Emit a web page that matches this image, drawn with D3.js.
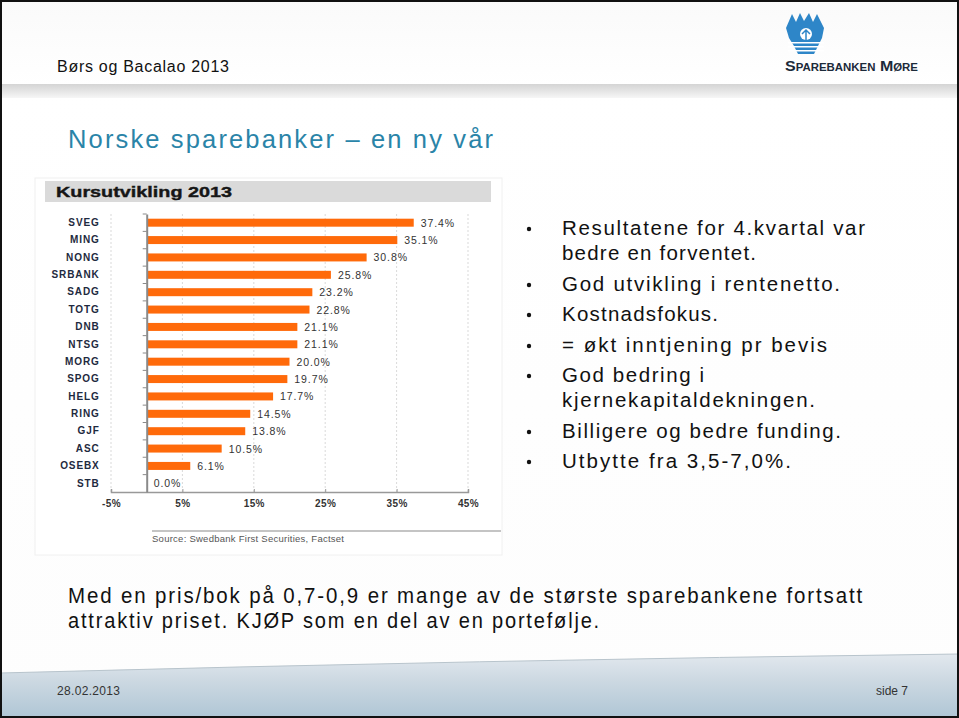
<!DOCTYPE html>
<html><head><meta charset="utf-8">
<script src="https://cdn.jsdelivr.net/npm/d3@7"></script>
<style>
html,body{margin:0;padding:0;background:#fff;}
svg{display:block;font-family:"Liberation Sans",Arial,sans-serif;}
</style></head>
<body>
<svg id="c" width="959" height="718"></svg>
<script>
// ---- data ----
const categories = ["SVEG","MING","NONG","SRBANK","SADG","TOTG","DNB","NTSG","MORG","SPOG","HELG","RING","GJF","ASC","OSEBX","STB"];
const values = [37.4,35.1,30.8,25.8,23.2,22.8,21.1,21.1,20.0,19.7,17.7,14.5,13.8,10.5,6.1,0.0];
const tickValues = [-5,5,15,25,35,45];
const chartTitle = "Kursutvikling 2013";
const sourceText = "Source: Swedbank First Securities, Factset";
const slideTitle = "Norske sparebanker \u2013 en ny vår";
const headerText = "Børs og Bacalao 2013";
const bullets = [
  ["Resultatene for 4.kvartal var","bedre en forventet."],
  ["God utvikling i rentenetto."],
  ["Kostnadsfokus."],
  ["= økt inntjening pr bevis"],
  ["God bedring i","kjernekapitaldekningen."],
  ["Billigere og bedre funding."],
  ["Utbytte fra 3,5-7,0%."]
];
const paragraph = ["Med en pris/bok på 0,7-0,9 er mange av de største sparebankene  fortsatt","attraktiv priset. KJØP som en del av en portefølje."];
const footerDate = "28.02.2013";
const footerPage = "side 7";

const svg = d3.select("#c");
const defs = svg.append("defs");

// background
const bg = defs.append("linearGradient").attr("id","bg").attr("x1",0).attr("y1",0).attr("x2",0).attr("y2",1);
bg.append("stop").attr("offset","0").attr("stop-color","#fafafa");
bg.append("stop").attr("offset","0.12").attr("stop-color","#ffffff");
bg.append("stop").attr("offset","1").attr("stop-color","#fdfdfd");
svg.append("rect").attr("width",959).attr("height",718).attr("fill","url(#bg)");

// header shadow band
const hs = defs.append("linearGradient").attr("id","hs").attr("x1",0).attr("y1",0).attr("x2",0).attr("y2",1);
hs.append("stop").attr("offset","0").attr("stop-color","#d4d4d4");
hs.append("stop").attr("offset","1").attr("stop-color","#f6f6f6");
svg.append("rect").attr("x",0).attr("y",84).attr("width",959).attr("height",14).attr("fill","url(#hs)");

// header text
svg.append("text").attr("x",57).attr("y",72).attr("font-size",16).attr("fill","#111")
  .attr("textLength",172).attr("lengthAdjust","spacing").text(headerText);

// logo
const logo = svg.append("g").attr("transform","translate(806,34)");
logo.append("path").attr("d","M-20,-6 L-14,-20 L-10,-12 L-6,-21 L-2,-13 L3,-21 L7,-12 L11,-20 L18,-6 L16,4 L12,12 L8,20 L-8,20 L-12,12 L-17,4 Z").attr("fill","#2e86c8");
logo.append("circle").attr("cx",0).attr("cy",0).attr("r",6).attr("fill","#fff");
logo.append("path").attr("d","M0,-4 L0,6 M-4,0 L0,-4 L4,0").attr("stroke","#2e86c8").attr("stroke-width",1.5).attr("fill","none");
[8,12,16].forEach(y=>logo.append("rect").attr("x",-18).attr("y",y).attr("width",36).attr("height",1.5).attr("fill","#fff"));
svg.append("text").attr("x",785).attr("y",71).attr("font-size",14).attr("font-weight","bold")
  .attr("fill","#1c2a3a").style("font-variant","small-caps").attr("textLength",133).attr("lengthAdjust","spacingAndGlyphs")
  .text("Sparebanken Møre");

// slide title
svg.append("text").attr("x",68).attr("y",148).attr("font-size",25.5).attr("fill","#2a84a8")
  .attr("textLength",425).attr("lengthAdjust","spacing").text(slideTitle);

// ---- chart panel ----
svg.append("rect").attr("x",35).attr("y",178).attr("width",467).attr("height",377).attr("fill","#ffffff").attr("stroke","#f0f0f0");
svg.append("rect").attr("x",45).attr("y",181).attr("width",446).attr("height",21).attr("fill","#dadada");
svg.append("text").attr("x",56).attr("y",197).attr("font-size",15.5).attr("font-weight","bold").attr("fill","#161616")
  .attr("stroke","#161616").attr("stroke-width",0.4)
  .attr("textLength",176).attr("lengthAdjust","spacingAndGlyphs").text(chartTitle);

const x = d3.scaleLinear().domain([-5,45]).range([111,468]);
const y = d3.scaleBand().domain(categories).range([214,492]).paddingInner(0.54).paddingOuter(0.27);
const yb = d3.scaleBand().domain(categories).range([214,492]);

// gridlines
svg.append("g").selectAll("line").data(tickValues).join("line")
  .attr("x1",d=>x(d)).attr("x2",d=>x(d)).attr("y1",214).attr("y2",492)
  .attr("stroke","#cfcfcf").attr("stroke-width",0.8).attr("stroke-dasharray","2,2");

// bars
svg.append("g").selectAll("rect").data(values).join("rect")
  .attr("x",x(0)+1).attr("y",(d,i)=>y(categories[i]))
  .attr("width",d=>Math.max(0,x(d)-x(0)-1)).attr("height",y.bandwidth())
  .attr("fill","#ff6a0a");

// value labels
svg.append("g").selectAll("text").data(values).join("text")
  .attr("x",d=>x(d)+7).attr("y",(d,i)=>yb(categories[i])+yb.bandwidth()/2+4)
  .attr("font-size",10.5).attr("fill","#333").attr("letter-spacing",0.9)
  .text(d=>d.toFixed(1)+"%");

// x axis
const xAxis = d3.axisBottom(x).tickValues(tickValues).tickFormat(d=>d+"%").tickSize(-3).tickPadding(8);
const gx = svg.append("g").attr("transform","translate(0,492)").call(xAxis);
gx.select(".domain").attr("stroke","#999").attr("stroke-width",1.5);
gx.selectAll(".tick line").attr("stroke","#999");
gx.selectAll("text").attr("font-size",10).attr("font-weight","bold").attr("fill","#333").attr("letter-spacing",0.4).attr("font-family","Liberation Sans, Arial, sans-serif");

// y axis
const yAxis = d3.axisLeft(yb).tickSize(0).tickPadding(47);
const gy = svg.append("g").attr("transform",`translate(${x(0)},0)`).call(yAxis);
gy.select(".domain").attr("stroke","#8a8a8a").attr("stroke-width",2);
gy.selectAll("text").attr("font-size",10).attr("font-weight","bold").attr("fill","#1e2a40").attr("letter-spacing",0.9).attr("font-family","Liberation Sans, Arial, sans-serif");
// small ticks at band boundaries
gy.append("g").selectAll("line").data(categories).join("line")
  .attr("x1",-4).attr("x2",0).attr("y1",d=>yb(d)).attr("y2",d=>yb(d)).attr("stroke","#8a8a8a");

// source
svg.append("line").attr("x1",152).attr("x2",501).attr("y1",531).attr("y2",531).attr("stroke","#8a8a8a").attr("stroke-width",1.2);
svg.append("text").attr("x",152).attr("y",542).attr("font-size",9.5).attr("fill","#555")
  .attr("textLength",192).attr("lengthAdjust","spacing").text(sourceText);

// ---- bullets ----
const bulletBase = [235,291,321,352,382,438,468];
const lineWidths = [[303,194],[278],[156],[265],[142,253],[279],[229]];
const bg2 = svg.append("g").attr("font-size",20.5).attr("fill","#111");
bullets.forEach((lines,i)=>{
  bg2.append("circle").attr("cx",529).attr("cy",bulletBase[i]-6).attr("r",2.2).attr("fill","#111");
  lines.forEach((t,j)=>{
    bg2.append("text").attr("x",562).attr("y",bulletBase[i]+j*24.5)
      .attr("textLength",lineWidths[i][j]).attr("lengthAdjust","spacing").text(t);
  });
});

// ---- paragraph (condensed glyphs with tracking) ----
const pw = [796,533];
paragraph.forEach((t,i)=>{
  svg.append("text").attr("x",68).attr("y",603+i*25).attr("font-size",22)
    .attr("letter-spacing",2).attr("fill","#111")
    .attr("textLength",pw[i]).attr("lengthAdjust","spacingAndGlyphs").text(t);
});

// ---- footer ----
const fg = defs.append("linearGradient").attr("id","fg").attr("x1",0).attr("y1",0).attr("x2",0).attr("y2",1);
fg.append("stop").attr("offset","0").attr("stop-color","#e2e8ee");
fg.append("stop").attr("offset","0.4").attr("stop-color","#cdd9e2");
fg.append("stop").attr("offset","1").attr("stop-color","#afc6d5");
svg.append("path").attr("d","M0,673 Q480,660 959,654 L959,718 L0,718 Z").attr("fill","url(#fg)");
svg.append("path").attr("d","M0,673 Q480,660 959,654").attr("fill","none").attr("stroke","#b8c4cc").attr("stroke-width",1);
svg.append("text").attr("x",57).attr("y",695).attr("font-size",12).attr("fill","#333")
  .attr("textLength",63).attr("lengthAdjust","spacing").text(footerDate);
svg.append("text").attr("x",876).attr("y",695).attr("font-size",12).attr("fill","#333")
  .attr("textLength",32).attr("lengthAdjust","spacing").text(footerPage);

// frame
svg.append("rect").attr("x",1).attr("y",1).attr("width",957).attr("height",716).attr("fill","none").attr("stroke","#111").attr("stroke-width",2);
</script>
</body></html>
